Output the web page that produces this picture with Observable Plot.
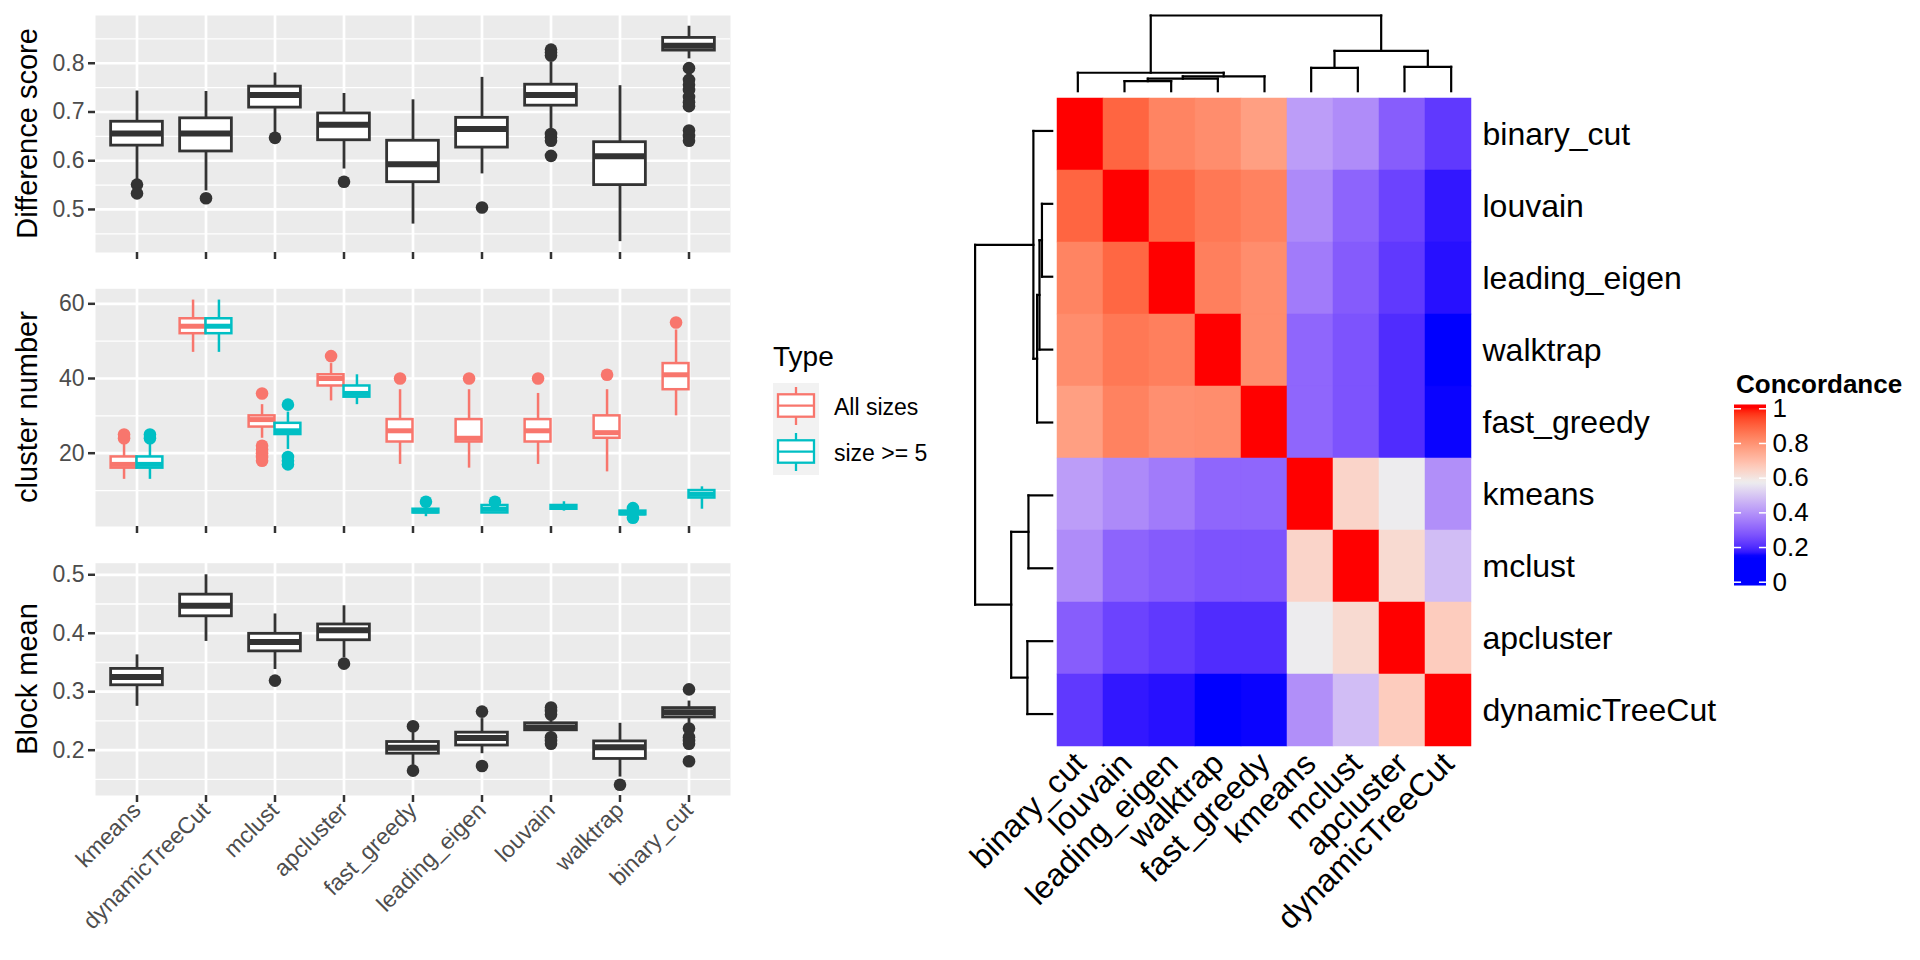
<!DOCTYPE html>
<html><head><meta charset="utf-8">
<script src="https://cdn.jsdelivr.net/npm/d3@7"></script>
<script src="https://cdn.jsdelivr.net/npm/@observablehq/plot@0.6"></script>
<style>
html,body{margin:0;padding:0;background:#fff;}
#root{position:relative;width:1920px;height:960px;overflow:hidden;font-family:"Liberation Sans",Arial,Helvetica,sans-serif;}
</style></head><body><div id="root"></div>
<script>
// ---------------- DATA ----------------
const methods = ["kmeans","dynamicTreeCut","mclust","apcluster","fast_greedy","leading_eigen","louvain","walktrap","binary_cut"];
const types = ["All sizes", "size >= 5"];
const typeColors = ["#F8766D", "#00BFC4"];

// Difference score box statistics
const diffLow  = [0.560, 0.538, 0.658, 0.583, 0.470, 0.573, 0.665, 0.434, 0.809];
const diffQ1   = [0.631, 0.619, 0.709, 0.642, 0.556, 0.627, 0.713, 0.550, 0.826];
const diffMed  = [0.656, 0.656, 0.735, 0.674, 0.593, 0.665, 0.735, 0.609, 0.836];
const diffQ3   = [0.680, 0.687, 0.752, 0.697, 0.641, 0.688, 0.756, 0.638, 0.852];
const diffHigh = [0.743, 0.742, 0.780, 0.738, 0.725, 0.771, 0.803, 0.754, 0.876];
const diffOut  = [[0.551,0.533],[0.523],[0.647],[0.557],[],[0.504],
                  [0.828,0.822,0.816,0.655,0.648,0.641,0.610],[],
                  [0.790,0.766,0.756,0.745,0.731,0.720,0.712,0.662,0.651,0.641]];

// Cluster number, "All sizes"
const allLow  = [13, 47, 24, 34, 17, 16, 17, 15, 30];
const allQ1   = [16, 52, 27, 38, 23, 23, 23, 24, 37];
const allMed  = [17, 54, 29, 40, 26, 24, 26, 25.5, 41];
const allQ3   = [19, 56, 30, 41, 29, 29, 29, 30, 44];
const allHigh = [23, 61, 33, 44, 37, 37, 36, 37, 53];
const allOut  = [[24,25],[],[36,22,21,20,19,18],[46],[40],[40],[40],[41],[55]];
// Cluster number, "size >= 5"
const s5Low  = [13, 47, 21, 33, 3, 4, 4.5, 3.5, 5];
const s5Q1   = [16, 52, 25, 35, 4, 4, 5, 3.5, 8];
const s5Med  = [17, 54, 26, 36, 4.5, 5, 5.5, 4, 9];
const s5Q3   = [19, 56, 28, 38, 5, 6, 6, 4.5, 10];
const s5High = [23, 61, 31, 41, 6, 6, 7, 4.5, 11];
const s5Out  = [[24,25],[],[33,19,18,17],[],[7],[7],[],[5.3,2.7],[]];

// Block mean
const bmLow  = [0.275, 0.386, 0.338, 0.358, 0.174, 0.194, 0.228, 0.154, 0.242];
const bmQ1   = [0.311, 0.429, 0.369, 0.388, 0.194, 0.208, 0.234, 0.185, 0.256];
const bmMed  = [0.325, 0.447, 0.385, 0.405, 0.204, 0.221, 0.239, 0.205, 0.265];
const bmQ3   = [0.339, 0.466, 0.399, 0.415, 0.214, 0.230, 0.246, 0.215, 0.272];
const bmHigh = [0.363, 0.500, 0.433, 0.447, 0.231, 0.254, 0.251, 0.246, 0.284];
const bmOut  = [[],[],[0.319],[0.348],[0.241,0.165],[0.266,0.173],
                [0.273,0.267,0.261,0.222,0.216,0.211],[0.141],
                [0.304,0.237,0.222,0.216,0.211,0.181]];

// Axis ticks
const diffTicks = [0.5, 0.6, 0.7, 0.8], diffMinor = [0.45, 0.55, 0.65, 0.75, 0.85];
const cnTicks = [20, 40, 60], cnMinor = [10, 30, 50];
const bmTicks = [0.2, 0.3, 0.4, 0.5], bmMinor = [0.15, 0.25, 0.35, 0.45];

// Heatmap (clustered order)
const hmOrder = ["binary_cut","louvain","leading_eigen","walktrap","fast_greedy","kmeans","mclust","apcluster","dynamicTreeCut"];
const concord = [
  [1.000, 0.894, 0.830, 0.810, 0.770, 0.418, 0.384, 0.290, 0.222],
  [0.894, 1.000, 0.890, 0.855, 0.834, 0.380, 0.303, 0.240, 0.170],
  [0.830, 0.890, 1.000, 0.840, 0.810, 0.350, 0.286, 0.222, 0.163],
  [0.810, 0.855, 0.840, 1.000, 0.810, 0.307, 0.270, 0.200, 0.150],
  [0.770, 0.834, 0.805, 0.810, 1.000, 0.307, 0.270, 0.200, 0.152],
  [0.418, 0.380, 0.350, 0.307, 0.307, 1.000, 0.640, 0.572, 0.390],
  [0.384, 0.303, 0.286, 0.270, 0.270, 0.640, 1.000, 0.625, 0.480],
  [0.290, 0.240, 0.222, 0.200, 0.200, 0.572, 0.625, 1.000, 0.660],
  [0.222, 0.170, 0.163, 0.150, 0.152, 0.390, 0.480, 0.660, 1.000]
];
// Dendrogram merges (hclust style: negative = leaf index (1-based) in hmOrder, positive = earlier merge)
const mergeLeft   = [-2, 1, 2, -1, -6, -8, 5, 4];
const mergeRight  = [-3, -4, -5, 3, -7, -9, 6, 7];
const mergeHeight = [0.133, 0.165, 0.196, 0.244, 0.308, 0.322, 0.532, 1.0];
const concTicks = [0, 0.2, 0.4, 0.6, 0.8, 1];

// ---------------- LAYOUT ----------------
const FONT = '"Liberation Sans", Arial, Helvetica, sans-serif';
const root = document.getElementById("root");
function place(node, left, top) {
  node.style.position = "absolute"; node.style.left = left + "px"; node.style.top = top + "px";
  root.appendChild(node); return node;
}
const baseStyle = {background: "none", fontFamily: FONT, overflow: "visible", maxWidth: "none"};

const PANEL_L = 95, PANEL_R = 730, SVG_W = 740;
const step = (PANEL_R - PANEL_L) / 9.2;
const fullInset = step * 0.125;
const half = step / 2;
const dodge = step * 0.1875;

const statsRows = (lo, q1, md, q3, hi) => methods.map((m, i) => ({method: m, low: lo[i], q1: q1[i], med: md[i], q3: q3[i], high: hi[i]}));
const outRows = out => methods.flatMap((m, i) => out[i].map(v => ({method: m, value: v})));

function boxMarks(rows, outs, color, o) {
  return [
    Plot.ruleX(rows, {x: "method", y1: "low", y2: "high", stroke: color, strokeWidth: o.sw, dx: o.dx}),
    Plot.barY(rows, {x: "method", y1: "q1", y2: "q3", fill: "white", stroke: color, strokeWidth: o.sw, insetLeft: o.il, insetRight: o.ir}),
    Plot.tickY(rows, {x: "method", y: "med", stroke: color, strokeWidth: o.mw, insetLeft: o.il, insetRight: o.ir}),
    Plot.dot(outs, {x: "method", y: "value", r: o.r, fill: color, stroke: "none", dx: o.dx})
  ];
}

function panel({top, height, marginTop, marginBottom, yDomain, ticks, minor, marks, labels}) {
  const p = Plot.plot({
    width: SVG_W, height, marginLeft: PANEL_L, marginRight: SVG_W - PANEL_R, marginTop, marginBottom,
    style: baseStyle,
    x: {type: "band", domain: methods, paddingInner: 0, paddingOuter: 0.1, axis: null},
    y: {domain: yDomain, axis: null},
    marks: [
      Plot.frame({fill: "#EBEBEB"}),
      Plot.gridY(minor, {stroke: "white", strokeOpacity: 1, strokeWidth: 1.3}),
      Plot.gridY(ticks, {stroke: "white", strokeOpacity: 1, strokeWidth: 2.7}),
      Plot.gridX({stroke: "white", strokeOpacity: 1, strokeWidth: 2.7}),
      ...marks,
      Plot.axisY(ticks, {tickSize: 7, tickPadding: 4, fontSize: 23, stroke: "#333333", strokeWidth: 2.5, fill: "#4D4D4D", tickFormat: d => String(d), label: null}),
      labels
        ? Plot.axisX({tickSize: 7, tickPadding: 4, tickRotate: -45, fontSize: 23, stroke: "#333333", strokeWidth: 2.5, fill: "#4D4D4D", label: null})
        : Plot.axisX({tickSize: 7, tickFormat: () => "", stroke: "#333333", strokeWidth: 2.5, label: null})
    ]
  });
  place(p, 0, top);
}

// Top panel: Difference score
panel({
  top: 0, height: 270, marginTop: 15, marginBottom: 18,
  yDomain: [0.4117, 0.898], ticks: diffTicks, minor: diffMinor,
  marks: boxMarks(statsRows(diffLow, diffQ1, diffMed, diffQ3, diffHigh), outRows(diffOut), "#333333",
                  {sw: 2.8, mw: 6, il: fullInset, ir: fullInset, dx: 0, r: 6.3})
});
// Middle panel: cluster number
panel({
  top: 270, height: 270, marginTop: 18.3, marginBottom: 14,
  yDomain: [0.375, 64.02], ticks: cnTicks, minor: cnMinor,
  marks: [
    ...boxMarks(statsRows(allLow, allQ1, allMed, allQ3, allHigh), outRows(allOut), typeColors[0],
                {sw: 2.5, mw: 5, il: fullInset, ir: half, dx: -dodge, r: 6.3}),
    ...boxMarks(statsRows(s5Low, s5Q1, s5Med, s5Q3, s5High), outRows(s5Out), typeColors[1],
                {sw: 2.5, mw: 5, il: half, ir: fullInset, dx: dodge, r: 6.3})
  ]
});
// Bottom panel: Block mean
panel({
  top: 540, height: 420, marginTop: 22.7, marginBottom: 165,
  yDomain: [0.1225, 0.5198], ticks: bmTicks, minor: bmMinor, labels: true,
  marks: boxMarks(statsRows(bmLow, bmQ1, bmMed, bmQ3, bmHigh), outRows(bmOut), "#333333",
                  {sw: 2.8, mw: 6, il: fullInset, ir: fullInset, dx: 0, r: 6.3})
});

// ---------------- HEATMAP ----------------
const HM_L = 1054, HM_T = 94, HM_W = 420, HM_H = 656;
const cells = hmOrder.flatMap((r, i) => hmOrder.map((c, j) => ({row: r, col: c, value: concord[i][j]})));
const hm = Plot.plot({
  width: HM_W + 300, height: HM_H + 210, marginLeft: 0, marginTop: 0, marginRight: 300, marginBottom: 210,
  style: baseStyle,
  x: {domain: hmOrder, padding: 0, axis: null},
  y: {domain: hmOrder, padding: 0, axis: null},
  color: {type: "linear", domain: [0.15, 0.575, 1], range: ["#0000FF", "#EEEEEE", "#FF0000"], interpolate: "lab", clamp: true},
  marks: [
    Plot.cell(cells, {x: "col", y: "row", fill: "value", stroke: "value", strokeWidth: 0.5, inset: 0}),
    Plot.axisY({anchor: "right", tickSize: 0, tickPadding: 8, fontSize: 32, fill: "black", label: null}),
    Plot.axisX({anchor: "bottom", tickSize: 0, tickPadding: 8, tickRotate: -45, fontSize: 32, fill: "black", label: null})
  ]
});
place(hm, HM_L, HM_T);

// Dendrograms
function dendroSegments() {
  const pos = [], hgt = [], segs = [];
  const nPos = k => k < 0 ? (-k - 1) + 0.5 : pos[k - 1];
  const nH = k => k < 0 ? 0 : hgt[k - 1];
  for (let i = 0; i < mergeLeft.length; i++) {
    const a = mergeLeft[i], b = mergeRight[i], h = mergeHeight[i];
    const pa = nPos(a), pb = nPos(b);
    segs.push({p1: pa, h1: nH(a), p2: pa, h2: h});
    segs.push({p1: pb, h1: nH(b), p2: pb, h2: h});
    segs.push({p1: pa, h1: h, p2: pb, h2: h});
    pos.push((pa + pb) / 2); hgt.push(h);
  }
  return segs;
}
const segs = dendroSegments();
const topDendro = Plot.plot({
  width: HM_W, height: 94, marginLeft: 0, marginRight: 0, marginTop: 15, marginBottom: 3.3,
  style: baseStyle,
  x: {domain: [0, 9], axis: null}, y: {domain: [0, 1], axis: null},
  marks: [Plot.link(segs, {x1: "p1", y1: "h1", x2: "p2", y2: "h2", stroke: "black", strokeWidth: 2.2, strokeLinecap: "square"})]
});
place(topDendro, HM_L, 0);
const leftDendro = Plot.plot({
  width: 94, height: HM_H, marginLeft: 14.6, marginRight: 2.3, marginTop: 0, marginBottom: 0,
  style: baseStyle,
  x: {domain: [1, 0], axis: null}, y: {domain: [0, 9], reverse: true, axis: null},
  marks: [Plot.link(segs, {x1: "h1", y1: "p1", x2: "h2", y2: "p2", stroke: "black", strokeWidth: 2.2, strokeLinecap: "square"})]
});
place(leftDendro, 960, HM_T);

// Concordance legend
const colorScale = hm.scale("color");
const leg = Plot.plot({
  width: 200, height: 200, marginLeft: 14, marginRight: 154, marginTop: 13.3, marginBottom: 13.3,
  style: baseStyle,
  x: {domain: [0, 1], axis: null}, y: {domain: [0, 1], axis: null},
  marks: [
    Plot.rect([0], {x1: 0, x2: 1, y1: -0.022, y2: 1.022, fill: "url(#concGrad)"}),
    Plot.ruleY(concTicks, {x1: 0, x2: 0.22, stroke: "white", strokeWidth: 1.5}),
    Plot.ruleY(concTicks, {x1: 0.78, x2: 1, stroke: "white", strokeWidth: 1.5}),
    Plot.axisY(concTicks, {anchor: "right", tickSize: 0, tickPadding: 6, fontSize: 26, fill: "black", tickFormat: d => String(+d.toFixed(1)), label: null})
  ]
});
const grad = d3.select(leg).insert("defs", ":first-child").append("linearGradient")
  .attr("id", "concGrad").attr("x1", 0).attr("y1", 1).attr("x2", 0).attr("y2", 0);
d3.range(0, 61).forEach(k => {
  const t = k / 60, v = -0.022 + t * 1.044;
  grad.append("stop").attr("offset", t).attr("stop-color", colorScale.apply(Math.max(0, Math.min(1, v))));
});
place(leg, 1720, 395);

// ---------------- TEXT OVERLAY (titles & Type legend) ----------------
const ov = d3.create("svg").attr("width", 1920).attr("height", 960)
  .style("font-family", FONT).style("pointer-events", "none");
[["Difference score", 133.5], ["cluster number", 407], ["Block mean", 679]].forEach(([t, cy]) => {
  ov.append("text").attr("transform", `translate(36.5,${cy}) rotate(-90)`).attr("text-anchor", "middle")
    .attr("font-size", 29).attr("fill", "black").text(t);
});
ov.append("text").attr("x", 1736).attr("y", 393).attr("font-size", 26).attr("font-weight", "bold").attr("fill", "black").text("Concordance");
ov.append("text").attr("x", 773).attr("y", 366).attr("font-size", 28).attr("fill", "black").text("Type");
types.forEach((t, i) => {
  const y0 = 383 + i * 46, g = ov.append("g");
  g.append("rect").attr("x", 773).attr("y", y0).attr("width", 46).attr("height", 46).attr("fill", "#F2F2F2");
  g.append("line").attr("x1", 796).attr("x2", 796).attr("y1", y0 + 4).attr("y2", y0 + 42).attr("stroke", typeColors[i]).attr("stroke-width", 2.3);
  g.append("rect").attr("x", 778).attr("y", y0 + 11.3).attr("width", 36).attr("height", 22.4).attr("fill", "white").attr("stroke", typeColors[i]).attr("stroke-width", 2.3);
  g.append("line").attr("x1", 778).attr("x2", 814).attr("y1", y0 + 22.7).attr("y2", y0 + 22.7).attr("stroke", typeColors[i]).attr("stroke-width", 2.3);
  ov.append("text").attr("x", 834).attr("y", y0 + 32).attr("font-size", 23).attr("fill", "black").text(t);
});
place(ov.node(), 0, 0);
</script></body></html>
